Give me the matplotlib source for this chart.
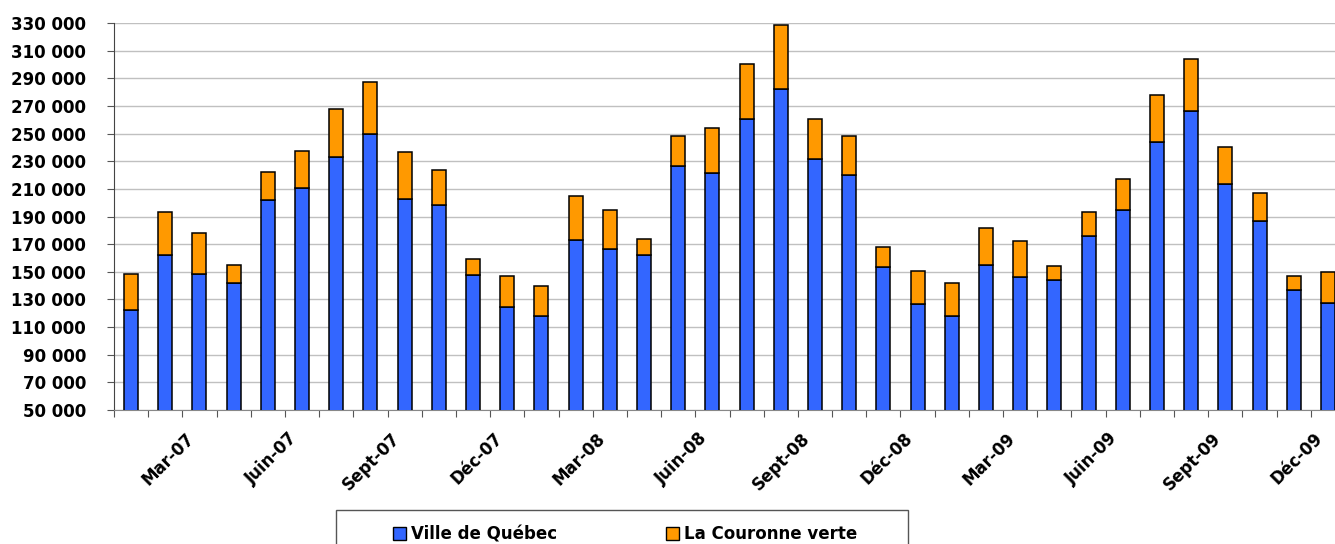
import numpy as np
import matplotlib
matplotlib.use("Agg")
import matplotlib.pyplot as plt
from matplotlib.patches import Rectangle, Patch
from matplotlib.ticker import FuncFormatter
from matplotlib.transforms import ScaledTranslation

# mois de janv. 2007 à déc. 2009
mois = ["Janv-07", "Févr-07", "Mar-07", "Avr-07", "Mai-07", "Juin-07",
        "Juil-07", "Août-07", "Sept-07", "Oct-07", "Nov-07", "Déc-07",
        "Janv-08", "Févr-08", "Mar-08", "Avr-08", "Mai-08", "Juin-08",
        "Juil-08", "Août-08", "Sept-08", "Oct-08", "Nov-08", "Déc-08",
        "Janv-09", "Févr-09", "Mar-09", "Avr-09", "Mai-09", "Juin-09",
        "Juil-09", "Août-09", "Sept-09", "Oct-09", "Nov-09", "Déc-09"]

ville_quebec = [122500, 162400, 148200, 141900, 201600, 210600, 232800, 249500,
                202600, 198200, 147900, 124200, 118200, 173300, 166800, 161900,
                226500, 221700, 260800, 282100, 231300, 219700, 153500, 126600,
                117700, 154700, 146200, 143800, 175700, 194600, 243900, 266600,
                213500, 187100, 136600, 127100]

total = [148200, 193400, 178400, 155200, 222200, 237100, 267600, 287400,
         236900, 223600, 159500, 147000, 139900, 204500, 194600, 174000,
         248000, 254300, 300300, 328800, 260600, 248300, 168000, 150800,
         142100, 181800, 172300, 154500, 193600, 217300, 277800, 304100,
         240500, 206900, 147200, 149600]

couronne_verte = [t - v for t, v in zip(total, ville_quebec)]

series = ["Ville de Québec", "La Couronne verte"]
bleu = "#3366FF"
orange = "#FF9900"

plt.rcParams["font.family"] = ["DejaVu Sans"]
plt.rcParams["font.weight"] = "bold"

W, H = 1335, 544
fig = plt.figure(figsize=(W / 100, H / 100), dpi=100)
ax = fig.add_axes([114 / W, 1 - 410 / H, 1231 / W, 387 / H])

x = np.arange(len(mois))
ax.bar(x, ville_quebec, width=0.41, bottom=0, color=bleu,
       edgecolor="black", linewidth=1.1, zorder=3)
ax.bar(x, couronne_verte, width=0.41, bottom=ville_quebec, color=orange,
       edgecolor="black", linewidth=1.1, zorder=3)

ax.set_xlim(-0.5, len(mois) - 0.5)
ax.set_ylim(50000, 330000)
ax.set_yticks(np.arange(50000, 330001, 20000))
ax.yaxis.set_major_formatter(FuncFormatter(lambda v, p: f"{int(v):,}".replace(",", " ")))
ax.grid(axis="y", color="#c0c0c0", linewidth=1, zorder=0)

# ticks between categories, labels every 3 months
ax.set_xticks(np.arange(-0.5, len(mois), 1))
ax.set_xticklabels([])
idx = np.arange(2, len(mois), 3)
ax.set_xticks(idx, [mois[i] for i in idx], minor=True)
ax.tick_params(axis="x", which="major", length=5, color="#555555", direction="out")
ax.tick_params(axis="x", which="minor", length=0, pad=14, labelsize=12)
ax.tick_params(axis="y", length=5, color="#555555", pad=15, labelsize=12)
offset = ScaledTranslation(-14 / 100, 0, fig.dpi_scale_trans)
for lab in ax.get_xticklabels(minor=True):
    lab.set_rotation(45)
    lab.set_ha("right")
    lab.set_va("top")
    lab.set_rotation_mode("anchor")
    lab.set_fontweight("bold")
    lab.set_transform(lab.get_transform() + offset)
for lab in ax.get_yticklabels():
    lab.set_fontweight("bold")

for s in ["top", "right"]:
    ax.spines[s].set_visible(False)
ax.spines["left"].set_color("#444444")
ax.spines["bottom"].set_color("#888888")

# legend box
fig.patches.append(Rectangle((336 / W, -0.05), (908 - 336) / W, 0.05 + 1 - 510 / H,
                             transform=fig.transFigure, facecolor="white",
                             edgecolor="#555555", linewidth=1))
handles = [Patch(facecolor=bleu, edgecolor="black"),
           Patch(facecolor=orange, edgecolor="black")]
fig.legend(handles, series, ncol=2, loc="center left",
           bbox_to_anchor=(378 / W, 1 - 534 / H), frameon=False,
           prop={"size": 12, "weight": "bold"}, handlelength=0.8,
           handleheight=0.8, handletextpad=0.3, columnspacing=6.5)

fig.savefig("out.png", dpi=100)
